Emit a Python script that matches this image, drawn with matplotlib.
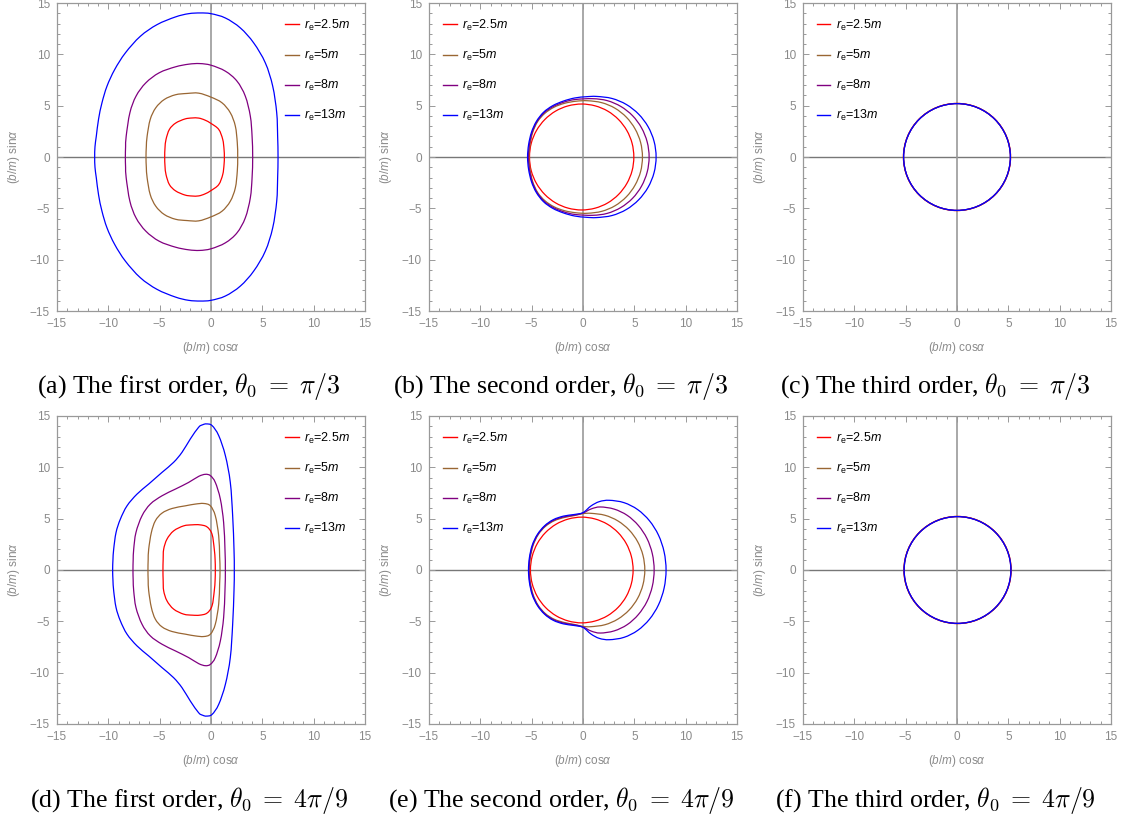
import numpy as np
import matplotlib
matplotlib.use("Agg")
import matplotlib.pyplot as plt
from matplotlib.patches import Circle, PathPatch
from matplotlib.path import Path
from matplotlib.lines import Line2D
from matplotlib.ticker import MultipleLocator, FuncFormatter

plt.rcParams["font.family"] = ["Liberation Sans", "DejaVu Sans"]
plt.rcParams["mathtext.fontset"] = "custom"
plt.rcParams["mathtext.rm"] = "Liberation Sans"
plt.rcParams["mathtext.it"] = "Liberation Sans:italic"

LABELS = [r"$r_{\mathrm{e}}$=2.5$m$", r"$r_{\mathrm{e}}$=5$m$", r"$r_{\mathrm{e}}$=8$m$", r"$r_{\mathrm{e}}$=13$m$"]
COLORS = ["#ff0000", "#996633", "#800080", "#0000ff"]

CAPTIONS = [
    r"(a) The first order, $\theta_0\;=\;\pi/3$",
    r"(b) The second order, $\theta_0\;=\;\pi/3$",
    r"(c) The third order, $\theta_0\;=\;\pi/3$",
    r"(d) The first order, $\theta_0\;=\;4\pi/9$",
    r"(e) The second order, $\theta_0\;=\;4\pi/9$",
    r"(f) The third order, $\theta_0\;=\;4\pi/9$",
]

# upper halves of the curves (left intercept -> right intercept)
# (a) first order, theta0 = pi/3
A_RED_X = [-4.51, -4.48, -4.38, -4.05, -3.45, -2.55, -1.85, -1.20, -0.60, 0.00, 0.75, 1.14, 1.27, 1.30]
A_RED_Y = [0.00, 0.90, 1.72, 2.69, 3.30, 3.70, 3.80, 3.79, 3.60, 3.27, 2.69, 1.72, 0.75, 0.00]
A_BROWN_X = [-6.33, -6.30, -6.22, -5.92, -5.38, -4.55, -3.47, -2.34, -1.20, 0.00, 1.07, 1.88, 2.37, 2.56, 2.60]
A_BROWN_Y = [0.00, 1.00, 2.04, 3.66, 4.79, 5.60, 6.06, 6.19, 6.22, 5.83, 5.28, 4.31, 3.01, 1.39, 0.00]
A_PURPLE_X = [-8.34, -8.32, -8.26, -7.90, -7.30, -6.35, -5.05, -3.47, -2.18, -1.10, 0.00, 1.40, 2.53,
              3.34, 3.83, 4.00, 4.06]
A_PURPLE_Y = [0.00, 1.00, 2.04, 4.31, 5.93, 7.22, 8.20, 8.78, 9.04, 9.10, 8.94, 8.36, 7.39,
              5.93, 3.98, 2.04, 0.00]
A_BLUE_X = [-11.33, -11.30, -11.17, -10.95, -10.62, -10.13, -9.38, -8.34, -6.88, -5.26, -3.47, -2.18,
            -1.04, 0.00, 1.40, 2.86, 4.16, 5.29, 6.01, 6.40, 6.49, 6.53]
A_BLUE_Y = [0.00, 1.00, 2.04, 3.70, 5.28, 6.90, 8.52, 10.14, 11.76, 12.89, 13.64, 13.96,
            14.03, 13.96, 13.54, 12.57, 11.11, 9.17, 6.90, 4.31, 2.04, 0.00]

# (b) second order, theta0 = pi/3
B_RED_X = [-5.21, -5.04, -4.53, -3.72, -2.67, -1.45, -0.13, 1.19, 2.41, 3.46, 4.27, 4.78, 4.95]
B_RED_Y = [0.00, 1.34, 2.58, 3.65, 4.47, 4.98, 5.16, 4.98, 4.47, 3.65, 2.58, 1.34, 0.00]
B_BROWN_X = [-5.26, -5.16, -4.90, -4.42, -3.72, -2.82, -1.80, -0.70, 0.45, 1.83, 3.12, 4.23, 5.07, 5.61, 5.79]
B_BROWN_Y = [0.00, 1.20, 2.40, 3.45, 4.25, 4.85, 5.23, 5.43, 5.48, 5.29, 4.75, 3.87, 2.74, 1.42, 0.00]
B_PURPLE_X = [-5.32, -5.22, -4.95, -4.48, -3.80, -2.90, -1.85, -0.75, 0.94, 2.36, 3.69, 4.83, 5.70, 6.25, 6.44]
B_PURPLE_Y = [0.00, 1.20, 2.40, 3.45, 4.30, 4.92, 5.35, 5.60, 5.68, 5.49, 4.92, 4.02, 2.84, 1.47, 0.00]
B_BLUE_X = [-5.40, -5.30, -5.02, -4.55, -3.85, -2.95, -1.90, -0.80, 0.30, 1.33, 2.83, 4.23, 5.42,
            6.34, 6.92, 7.12]
B_BLUE_Y = [0.00, 1.20, 2.40, 3.45, 4.35, 5.00, 5.45, 5.75, 5.87, 5.90, 5.70, 5.11, 4.17,
            2.95, 1.53, 0.00]

# (d) first order, theta0 = 4pi/9
D_RED_X = [-4.68, -4.66, -4.61, -4.29, -3.64, -2.66, -1.80, -1.10, -0.39, 0.10, 0.32, 0.40, 0.42]
D_RED_Y = [0.00, 1.00, 2.02, 3.00, 3.81, 4.30, 4.40, 4.40, 4.20, 3.49, 2.02, 1.00, 0.00]
D_BROWN_X = [-6.14, -6.12, -6.07, -5.81, -5.42, -4.77, -3.80, -2.50, -1.53, -0.71, -0.06, 0.42,
             0.75, 0.84, 0.88]
D_BROWN_Y = [0.00, 1.00, 2.02, 3.65, 4.79, 5.54, 5.99, 6.25, 6.42, 6.48, 6.25, 5.28,
             3.32, 1.37, 0.00]
D_PURPLE_X = [-7.60, -7.58, -7.53, -7.31, -6.72, -5.91, -4.77, -3.47, -2.18, -1.20, -0.55, -0.06,
              0.42, 0.91, 1.23, 1.36, 1.40]
D_PURPLE_Y = [0.00, 1.00, 2.02, 3.65, 5.28, 6.42, 7.23, 7.88, 8.53, 9.12, 9.32, 9.19,
              8.53, 6.91, 4.63, 2.02, 0.00]
D_BLUE_X = [-9.58, -9.55, -9.48, -9.25, -8.83, -8.18, -7.21, -6.07, -4.77, -3.64, -2.82, -2.01,
            -1.20, -0.80, -0.45, 0.10, 0.75, 1.40, 1.88, 2.11, 2.24, 2.27]
D_BLUE_Y = [0.00, 1.00, 2.02, 3.65, 4.95, 6.25, 7.39, 8.37, 9.51, 10.49, 11.47, 12.77,
            13.91, 14.15, 14.23, 14.07, 13.09, 11.14, 8.53, 5.28, 2.02, 0.00]

# (e) second order, theta0 = 4pi/9
E_RED_X = [-5.12, -4.95, -4.45, -3.66, -2.62, -1.41, -0.12, 1.17, 2.38, 3.42, 4.21, 4.71, 4.88]
E_RED_Y = [0.00, 1.33, 2.58, 3.64, 4.46, 4.97, 5.15, 4.97, 4.46, 3.64, 2.58, 1.33, 0.00]
E_BROWN_X = [-5.22, -5.13, -4.86, -4.36, -3.66, -2.80, -1.80, -0.85, 0.00, 0.78, 2.14, 3.40,
             4.49, 5.32, 5.84, 6.02]
E_BROWN_Y = [0.00, 1.20, 2.40, 3.45, 4.25, 4.80, 5.12, 5.30, 5.49, 5.52, 5.33, 4.78,
             3.90, 2.76, 1.43, 0.00]
E_PURPLE_X = [-5.26, -5.17, -4.90, -4.40, -3.70, -2.85, -1.85, -0.90, 0.00, 0.80, 1.68, 3.04,
              4.31, 5.39, 6.23, 6.75, 6.93]
E_PURPLE_Y = [0.00, 1.20, 2.40, 3.45, 4.28, 4.85, 5.18, 5.33, 5.55, 5.95, 6.14, 5.93,
              5.32, 4.34, 3.07, 1.59, 0.00]
E_BLUE_X = [-5.31, -5.22, -4.95, -4.45, -3.75, -2.90, -1.90, -0.90, 0.00, 0.78, 1.59, 2.56,
            3.99, 5.33, 6.47, 7.35, 7.90, 8.09]
E_BLUE_Y = [0.00, 1.20, 2.40, 3.45, 4.30, 4.90, 5.25, 5.40, 5.59, 6.24, 6.66, 6.79,
            6.56, 5.88, 4.80, 3.40, 1.76, 0.00]

# (c), (f) third order: circles
C_CENTER = 0.0
C_RADII = [5.22, 5.21, 5.20, 5.20]
F_CENTER = 0.05
F_RADII = [5.22, 5.21, 5.20, 5.20]

PANEL_CURVES = {
    0: [(A_RED_X, A_RED_Y), (A_BROWN_X, A_BROWN_Y), (A_PURPLE_X, A_PURPLE_Y), (A_BLUE_X, A_BLUE_Y)],
    1: [(B_RED_X, B_RED_Y), (B_BROWN_X, B_BROWN_Y), (B_PURPLE_X, B_PURPLE_Y), (B_BLUE_X, B_BLUE_Y)],
    3: [(D_RED_X, D_RED_Y), (D_BROWN_X, D_BROWN_Y), (D_PURPLE_X, D_PURPLE_Y), (D_BLUE_X, D_BLUE_Y)],
    4: [(E_RED_X, E_RED_Y), (E_BROWN_X, E_BROWN_Y), (E_PURPLE_X, E_PURPLE_Y), (E_BLUE_X, E_BLUE_Y)],
}
PANEL_CIRCLES = {2: (C_CENTER, C_RADII), 5: (F_CENTER, F_RADII)}

W, H = 1123, 821
GRAY = "#8a8a8a"


def smooth_loop(xs, ys):
    # mirror the upper half about y = 0 and pass a closed cubic Bezier path through the points
    x = list(xs) + list(xs[::-1][1:-1])
    y = list(ys) + [-v for v in ys[::-1][1:-1]]
    p = np.column_stack([x, y])
    n = len(p)
    verts = [p[0]]
    codes = [Path.MOVETO]
    for k in range(n):
        p0, p1, p2, p3 = p[k - 1], p[k], p[(k + 1) % n], p[(k + 2) % n]
        verts += [p1 + (p2 - p0) / 6, p2 - (p3 - p1) / 6, p2]
        codes += [Path.CURVE4] * 3
    return Path(verts, codes)


def tick_fmt(v, pos):
    v = int(round(v))
    return "\u2212" + str(-v) if v < 0 else str(v)


fig = plt.figure(figsize=(W / 100, H / 100), dpi=100)

col_left = [57, 429, 803]
row_top = [3, 416]
size = 308
legend_x = [0.740, 0.045, 0.044]

for i in range(6):
    r, c = divmod(i, 3)
    ax = fig.add_axes([col_left[c] / W, 1 - (row_top[r] + size) / H, size / W, size / H])
    ax.set_xlim(-15, 15)
    ax.set_ylim(-15, 15)
    ax.axhline(0, color="#777777", lw=1.0, zorder=1)
    ax.axvline(0, color="#999999", lw=1.2, zorder=1)

    handles = [Line2D([], [], color=col, lw=1.0) for col in COLORS]
    if i in PANEL_CURVES:
        for (xs, ys), col in zip(PANEL_CURVES[i], COLORS):
            ax.add_patch(PathPatch(smooth_loop(xs, ys), fill=False, edgecolor=col, lw=0.9, zorder=3))
    else:
        cx, radii = PANEL_CIRCLES[i]
        for rad, col in zip(radii, COLORS):
            ax.add_patch(Circle((cx, 0), rad, fill=False, edgecolor=col, lw=0.9, zorder=3))

    for s in ax.spines.values():
        s.set_color("#999999")
        s.set_linewidth(0.9)
    ax.xaxis.set_major_locator(MultipleLocator(5))
    ax.yaxis.set_major_locator(MultipleLocator(5))
    ax.xaxis.set_minor_locator(MultipleLocator(1))
    ax.yaxis.set_minor_locator(MultipleLocator(1))
    ax.xaxis.set_major_formatter(FuncFormatter(tick_fmt))
    ax.yaxis.set_major_formatter(FuncFormatter(tick_fmt))
    ax.tick_params(which="both", direction="in", top=True, right=True, color="#999999", width=0.7)
    ax.tick_params(which="major", length=4, labelsize=8.5, labelcolor=GRAY, pad=5)
    ax.tick_params(which="minor", length=2)

    ax.set_xlabel(r"($b/m$) cos$\alpha$", fontsize=8.5, color=GRAY, labelpad=7)
    ax.set_ylabel(r"($b/m$) sin$\alpha$", fontsize=8.5, color=GRAY, labelpad=6)

    ax.legend(handles, LABELS, loc="upper left", bbox_to_anchor=(legend_x[c], 0.952), frameon=False,
              fontsize=9, labelspacing=1.2, handlelength=1.1, handletextpad=0.45,
              borderaxespad=0, borderpad=0)

    cap_x = (col_left[c] + size / 2 - 22) / W
    cap_y = 1 - [387, 800][r] / H
    fig.text(cap_x, cap_y, CAPTIONS[i], ha="center", va="center", fontsize=18.6,
             family=["Liberation Serif", "DejaVu Serif"], math_fontfamily="cm")

fig.savefig("out.png", dpi=100)
